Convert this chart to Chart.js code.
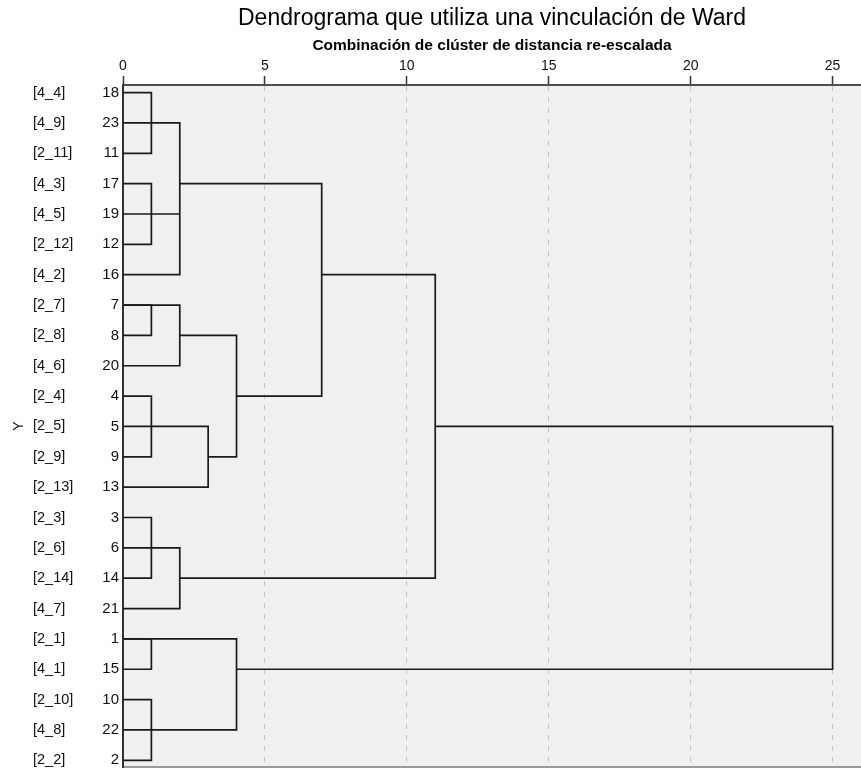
<!DOCTYPE html>
<html><head><meta charset="utf-8">
<script src="https://cdn.jsdelivr.net/npm/chart.js@4/dist/chart.umd.min.js"></script>
<style>html,body{margin:0;padding:0;background:#fff}</style>
</head><body>
<canvas id="c" width="861" height="770"></canvas>
<script>
// ---- data ----
const chartTitle = 'Dendrograma que utiliza una vinculación de Ward';
const axisTitle = 'Combinación de clúster de distancia re-escalada';
const caseLabels = ['[4_4]','[4_9]','[2_11]','[4_3]','[4_5]','[2_12]','[4_2]','[2_7]','[2_8]','[4_6]','[2_4]','[2_5]','[2_9]','[2_13]','[2_3]','[2_6]','[2_14]','[4_7]','[2_1]','[4_1]','[2_10]','[4_8]','[2_2]'];
const caseNumbers = [18,23,11,17,19,12,16,7,8,20,4,5,9,13,3,6,14,21,1,15,10,22,2];
const xTickValues = [0,5,10,15,20,25];
// each link: top row / its start distance, join distance, bottom row / its start distance
const linkTopRow     = [0,1,3,4,3,7,7,8,10,11,14,15,6,11,18,18,20];
const linkTopStart   = [0,0,0,0,2,0,0,2,0,0,0,0,7,11,0,0,0];
const linkHeight     = [1,2,1,2,7,1,2,4,1,3,1,2,11,25,1,4,1];
const linkBottomRow  = [2,6,5,4,10,8,9,12,12,13,16,17,16,19,19,21,22];
const linkBottomStart= [0,0,0,0,4,0,0,3,0,0,0,0,2,4,0,0,0];

const FONT = 'Liberation Sans, Arial, sans-serif';
const rowIdx = caseNumbers.map((_, i) => i);

const datasets = linkHeight.map((h, i) => ({
  data: [
    {x: linkTopStart[i], y: linkTopRow[i]},
    {x: h, y: linkTopRow[i]},
    {x: h, y: linkBottomRow[i]},
    {x: linkBottomStart[i], y: linkBottomRow[i]}
  ],
  showLine: true, borderColor: '#1a1a1a', borderWidth: 1.7,
  pointRadius: 0, fill: false, tension: 0, clip: false
}));

const plotBg = {
  id: 'plotBg',
  beforeDraw(chart) {
    const {ctx, chartArea: a} = chart;
    ctx.save();
    ctx.fillStyle = '#ffffff';
    ctx.fillRect(0, 0, chart.width, chart.height);
    ctx.fillStyle = '#f0f0f0';
    ctx.fillRect(a.left, a.top, a.right - a.left, a.bottom - a.top);
    ctx.restore();
  }
};

const yCommon = {
  type: 'linear', position: 'left', reverse: true, min: -0.25, max: 22.22,
  afterBuildTicks: s => { s.ticks = rowIdx.map(v => ({value: v})); },
  grid: {display: false, drawTicks: false}
};

new Chart(document.getElementById('c'), {
  type: 'scatter',
  data: {datasets},
  plugins: [plotBg],
  options: {
    responsive: false, animation: false, devicePixelRatio: 1,
    layout: {padding: 0},
    plugins: {
      legend: {display: false}, tooltip: {enabled: false},
      title: {display: true, text: chartTitle, fullSize: false, color: '#000',
        font: {family: FONT, size: 23, weight: 'normal'}, padding: {top: 5, bottom: 2}}
    },
    scales: {
      x: {
        type: 'linear', position: 'top', min: 0, max: 26,
        afterBuildTicks: s => { s.ticks = xTickValues.map(v => ({value: v})); },
        afterFit: s => { s.paddingLeft = 0; s.paddingRight = 0; },
        ticks: {font: {family: FONT, size: 14}, color: '#111', padding: 1, maxRotation: 0},
        grid: {color: c => (c.tick && c.tick.value === 0) ? 'rgba(0,0,0,0)' : '#c4c4c4',
          lineWidth: 1, tickColor: '#333', tickLength: 9, tickWidth: 1.5},
        border: {display: true, color: '#4d4d4d', width: 2, dash: [5, 6]},
        title: {display: true, text: axisTitle, color: '#000',
          font: {family: FONT, size: 15.5, weight: 'bold'}, padding: {top: 2, bottom: 2}}
      },
      xb: {
        type: 'linear', position: 'bottom', min: 0, max: 26,
        ticks: {display: false}, grid: {display: false, drawTicks: false},
        border: {display: true, color: '#9a9a9a', width: 2},
        afterFit: s => { s.height = 3; s.paddingLeft = 0; s.paddingRight = 0; }
      },
      y: Object.assign({}, yCommon, {
        weight: 0,
        ticks: {callback: v => caseNumbers[v], font: {family: FONT, size: 15}, color: '#111', padding: 4, autoSkip: false},
        border: {display: true, color: '#333', width: 2},
        afterFit: s => { s.width = 28; s.paddingTop = 0; s.paddingBottom = 0; }
      }),
      yLab: Object.assign({}, yCommon, {
        weight: 1,
        ticks: {callback: v => caseLabels[v], font: {family: FONT, size: 14.5}, color: '#111', padding: 4, crossAlign: 'far', autoSkip: false},
        border: {display: false},
        afterFit: s => { s.width = 62; s.paddingTop = 0; s.paddingBottom = 0; }
      }),
      yTitle: {
        type: 'linear', position: 'left', weight: 2, min: 0, max: 1,
        ticks: {display: false}, grid: {display: false, drawTicks: false}, border: {display: false},
        title: {display: true, text: 'Y', color: '#111', font: {family: FONT, size: 14}, padding: {top: 11, bottom: 0}},
        afterFit: s => { s.width = 33; s.paddingTop = 0; s.paddingBottom = 0; }
      }
    }
  }
});
</script>
</body></html>
